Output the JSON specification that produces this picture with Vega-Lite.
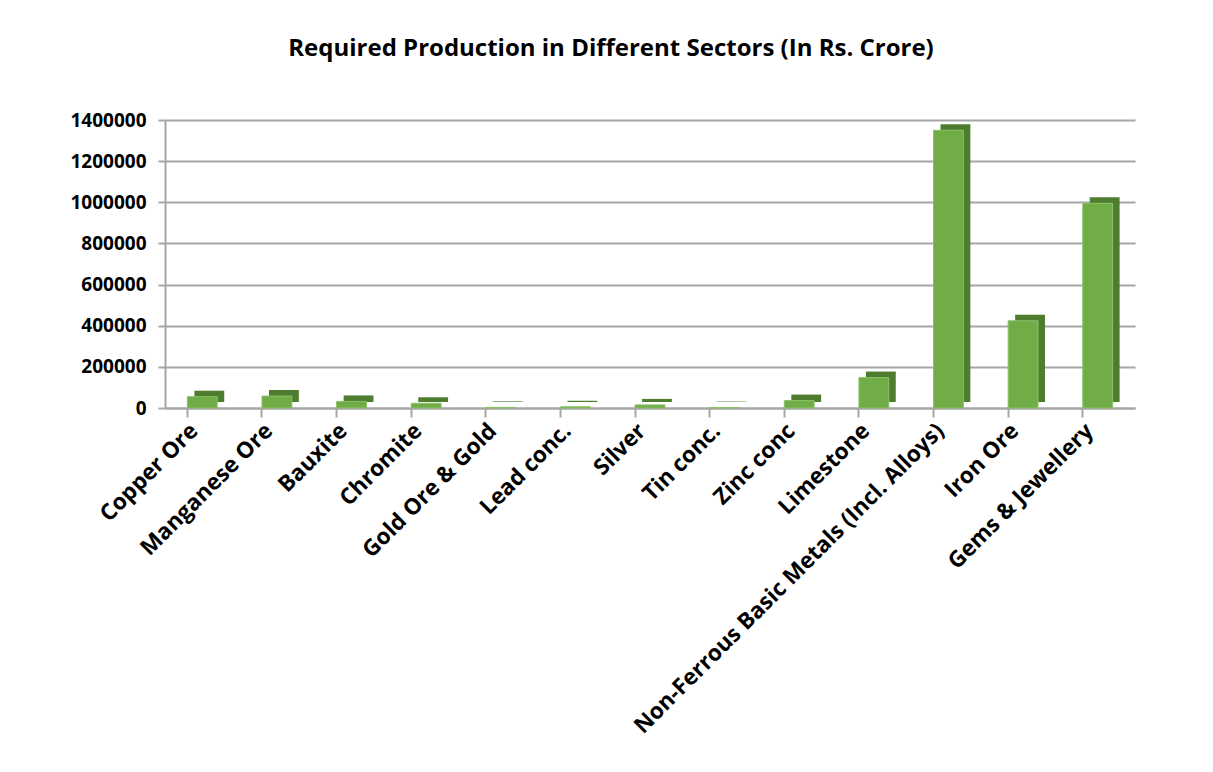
{
  "$schema": "https://vega.github.io/schema/vega-lite/v6.json",
  "autosize": "none",
  "width": 970,
  "height": 288,
  "padding": {"left": 165, "top": 120, "right": 78, "bottom": 364},
  "background": "white",
  "title": {
    "text": "Required Production in Different Sectors (In Rs. Crore)",
    "font": "Open Sans",
    "fontSize": 24,
    "fontWeight": "bold",
    "color": "#000000",
    "anchor": "middle",
    "dx": -39,
    "offset": 50
  },
  "data": {
    "values": [
      {"sector": "Copper Ore", "value": 55000},
      {"sector": "Manganese Ore", "value": 58000},
      {"sector": "Bauxite", "value": 32000},
      {"sector": "Chromite", "value": 23000},
      {"sector": "Gold Ore & Gold", "value": 3000},
      {"sector": "Lead conc.", "value": 6000},
      {"sector": "Silver", "value": 15000},
      {"sector": "Tin conc.", "value": 2000},
      {"sector": "Zinc conc", "value": 36000},
      {"sector": "Limestone", "value": 148000},
      {"sector": "Non-Ferrous Basic Metals (Incl. Alloys)", "value": 1350000},
      {"sector": "Iron Ore", "value": 424000},
      {"sector": "Gems & Jewellery", "value": 995000}
    ]
  },
  "encoding": {
    "x": {
      "field": "sector",
      "type": "nominal",
      "sort": null,
      "scale": {"paddingInner": 0.6, "paddingOuter": 0.3},
      "axis": {
        "title": null,
        "labelAngle": -45,
        "labelAlign": "right",
        "labelBaseline": "middle",
        "labelFont": "Open Sans",
        "labelFontSize": 22.5,
        "labelFontWeight": "bold",
        "labelColor": "#000000",
        "labelPadding": 10,
        "labelOffset": -8,
        "labelLimit": 0,
        "labelOverlap": false,
        "bandPosition": 0,
        "tickSize": 9,
        "tickWidth": 2,
        "tickColor": "#a6a6a6",
        "domainColor": "#a6a6a6",
        "domainWidth": 2,
        "grid": false
      }
    },
    "y": {
      "field": "value",
      "type": "quantitative",
      "scale": {"domain": [0, 1400000], "nice": false},
      "axis": {
        "title": null,
        "values": [0, 200000, 400000, 600000, 800000, 1000000, 1200000, 1400000],
        "format": "d",
        "labelFont": "Open Sans",
        "labelFontSize": 19,
        "labelFontWeight": "bold",
        "labelColor": "#000000",
        "labelPadding": 12,
        "tickSize": 7,
        "tickWidth": 2,
        "tickColor": "#a6a6a6",
        "domainColor": "#a6a6a6",
        "domainWidth": 2,
        "grid": true,
        "gridColor": "#a6a6a6",
        "gridWidth": 2
      }
    }
  },
  "layer": [
    {"mark": {"type": "bar", "color": "#4e7d2f", "xOffset": 7, "yOffset": -6, "y2Offset": -6}},
    {"mark": {"type": "bar", "color": "#70ad47", "stroke": "#8cc068", "strokeWidth": 1}}
  ],
  "config": {"view": {"stroke": null}}
}
